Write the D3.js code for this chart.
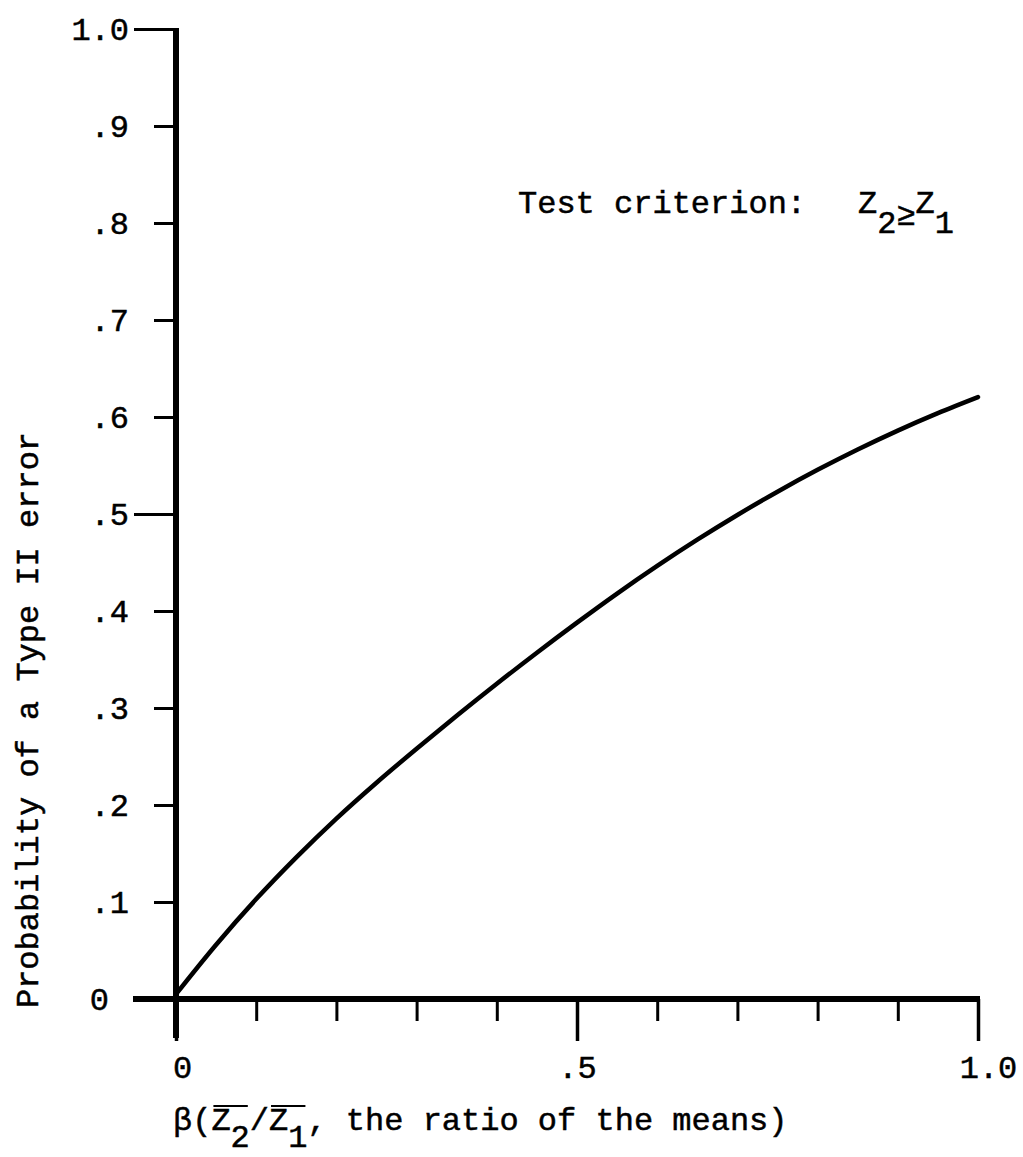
<!DOCTYPE html>
<html>
<head>
<meta charset="utf-8">
<script src="https://cdn.jsdelivr.net/npm/d3@7"></script>
<style>
  body { margin: 0; background: #fff; }
  svg { display: block; }
  text { font-family: 'Liberation Mono', 'Courier New', 'DejaVu Sans Mono', monospace; fill: #000;
         stroke: #000; stroke-width: 0.5px; }
</style>
</head>
<body>
<script>
const width = 1023
const height = 1157

// ratio of the means (beta) and the read-off probability of a Type II error
const beta = [0, 0.05, 0.1, 0.15, 0.2, 0.25, 0.3, 0.35, 0.4, 0.45, 0.5,
              0.55, 0.6, 0.65, 0.7, 0.75, 0.8, 0.85, 0.9, 0.95, 1.0]
const probII = [0.005, 0.056, 0.103, 0.146, 0.186, 0.223, 0.258, 0.292, 0.325, 0.357, 0.388,
                0.418, 0.4465, 0.4735, 0.499, 0.523, 0.5455, 0.5665, 0.586, 0.604, 0.6205]

const tickVals = [0, 0.1, 0.2, 0.3, 0.4, 0.5, 0.6, 0.7, 0.8, 0.9, 1.0]
const yTickLabels = ['0', '.1', '.2', '.3', '.4', '.5', '.6', '.7', '.8', '.9', '1.0']
const majorVals = [0, 0.5, 1.0]
const xTickLabels = ['0', '.5', '1.0']

const x = d3.scaleLinear().domain([0, 1]).range([176, 978])
const y = d3.scaleLinear().domain([0, 1]).range([999, 29])

const svg = d3.select('body').append('svg')
    .attr('width', width)
    .attr('height', height)

svg.append('rect')
    .attr('width', width)
    .attr('height', height)
    .attr('fill', '#fff')

function styleAxis(g, tickWidth) {
    g.select('.domain').remove()
    g.selectAll('.tick line').attr('stroke', '#000').attr('stroke-width', tickWidth)
    g.selectAll('.tick text').attr('font-size', 32).attr('font-family', null)
}

// y axis: short ticks with labels, long ticks at 0, .5, 1.0
const yMinor = svg.append('g')
    .attr('transform', `translate(${x(0)},0)`)
    .call(d3.axisLeft(y).tickValues(tickVals).tickSize(22).tickPadding(25)
        .tickFormat((d, i) => yTickLabels[i]))
styleAxis(yMinor, 3)
yMinor.selectAll('.tick text').filter(d => d === 0).attr('x', -67)

const yMajor = svg.append('g')
    .attr('transform', `translate(${x(0)},0)`)
    .call(d3.axisLeft(y).tickValues(majorVals).tickSize(42).tickFormat(''))
styleAxis(yMajor, 3)

// x axis
const xMinor = svg.append('g')
    .attr('transform', `translate(0,${y(0)})`)
    .call(d3.axisBottom(x).tickValues(tickVals).tickSize(22).tickFormat(''))
styleAxis(xMinor, 3)

const xMajor = svg.append('g')
    .attr('transform', `translate(0,${y(0)})`)
    .call(d3.axisBottom(x).tickValues(majorVals).tickSize(42).tickPadding(14)
        .tickFormat((d, i) => xTickLabels[i]))
styleAxis(xMajor, 3.5)
xMajor.selectAll('.tick text').attr('dx', d => d === 0 ? 6 : d === 1 ? 10 : 0)

// heavy axis lines (y runs below the x axis, x runs left of the y axis)
svg.append('line')
    .attr('x1', x(0)).attr('x2', x(0))
    .attr('y1', y(1) - 1).attr('y2', y(0) + 39)
    .attr('stroke', '#000').attr('stroke-width', 6)

svg.append('line')
    .attr('x1', x(0) - 43).attr('x2', x(1) + 2)
    .attr('y1', y(0)).attr('y2', y(0))
    .attr('stroke', '#000').attr('stroke-width', 6)

// the curve
const line = d3.line()
    .x((d, i) => x(beta[i]))
    .y(d => y(d))
    .curve(d3.curveCatmullRom)

svg.append('path')
    .datum(probII)
    .attr('d', line)
    .attr('fill', 'none')
    .attr('stroke', '#000')
    .attr('stroke-width', 4.5)
    .attr('stroke-linecap', 'round')

// annotation
svg.append('text')
    .attr('x', 518).attr('y', 213)
    .attr('font-size', 32)
    .text('Test criterion:')

const crit = svg.append('text')
    .attr('x', 858).attr('y', 213)
    .attr('font-size', 32)
crit.append('tspan').text('Z')
crit.append('tspan').attr('dy', 20).text('2')
crit.append('tspan').attr('dy', -8).text('≥')
crit.append('tspan').attr('dy', -12).text('Z')
crit.append('tspan').attr('dy', 20).text('1')

// y title
svg.append('text')
    .attr('transform', 'translate(38,720) rotate(-90)')
    .attr('text-anchor', 'middle')
    .attr('font-size', 32)
    .text('Probability of a Type II error')

// x title with overlined Z2 and Z1
const xt = svg.append('text')
    .attr('x', 173).attr('y', 1130)
    .attr('font-size', 32)
xt.append('tspan').text('β(')
const z2 = xt.append('tspan').text('Z')
const s2 = xt.append('tspan').attr('dy', 17).text('2')
xt.append('tspan').attr('dy', -17).text('/')
const z1 = xt.append('tspan').text('Z')
const s1 = xt.append('tspan').attr('dy', 17).text('1')
xt.append('tspan').attr('dy', -17).text(', the ratio of the means)')

;[[z2, s2], [z1, s1]].forEach(([z, s]) => {
    const bz = z.node().getBBox()
    const bs = s.node().getBBox()
    svg.append('line')
        .attr('x1', bz.x + 2).attr('x2', bs.x + bs.width - 2)
        .attr('y1', 1106).attr('y2', 1106)
        .attr('stroke', '#000').attr('stroke-width', 2)
})
</script>
</body>
</html>
